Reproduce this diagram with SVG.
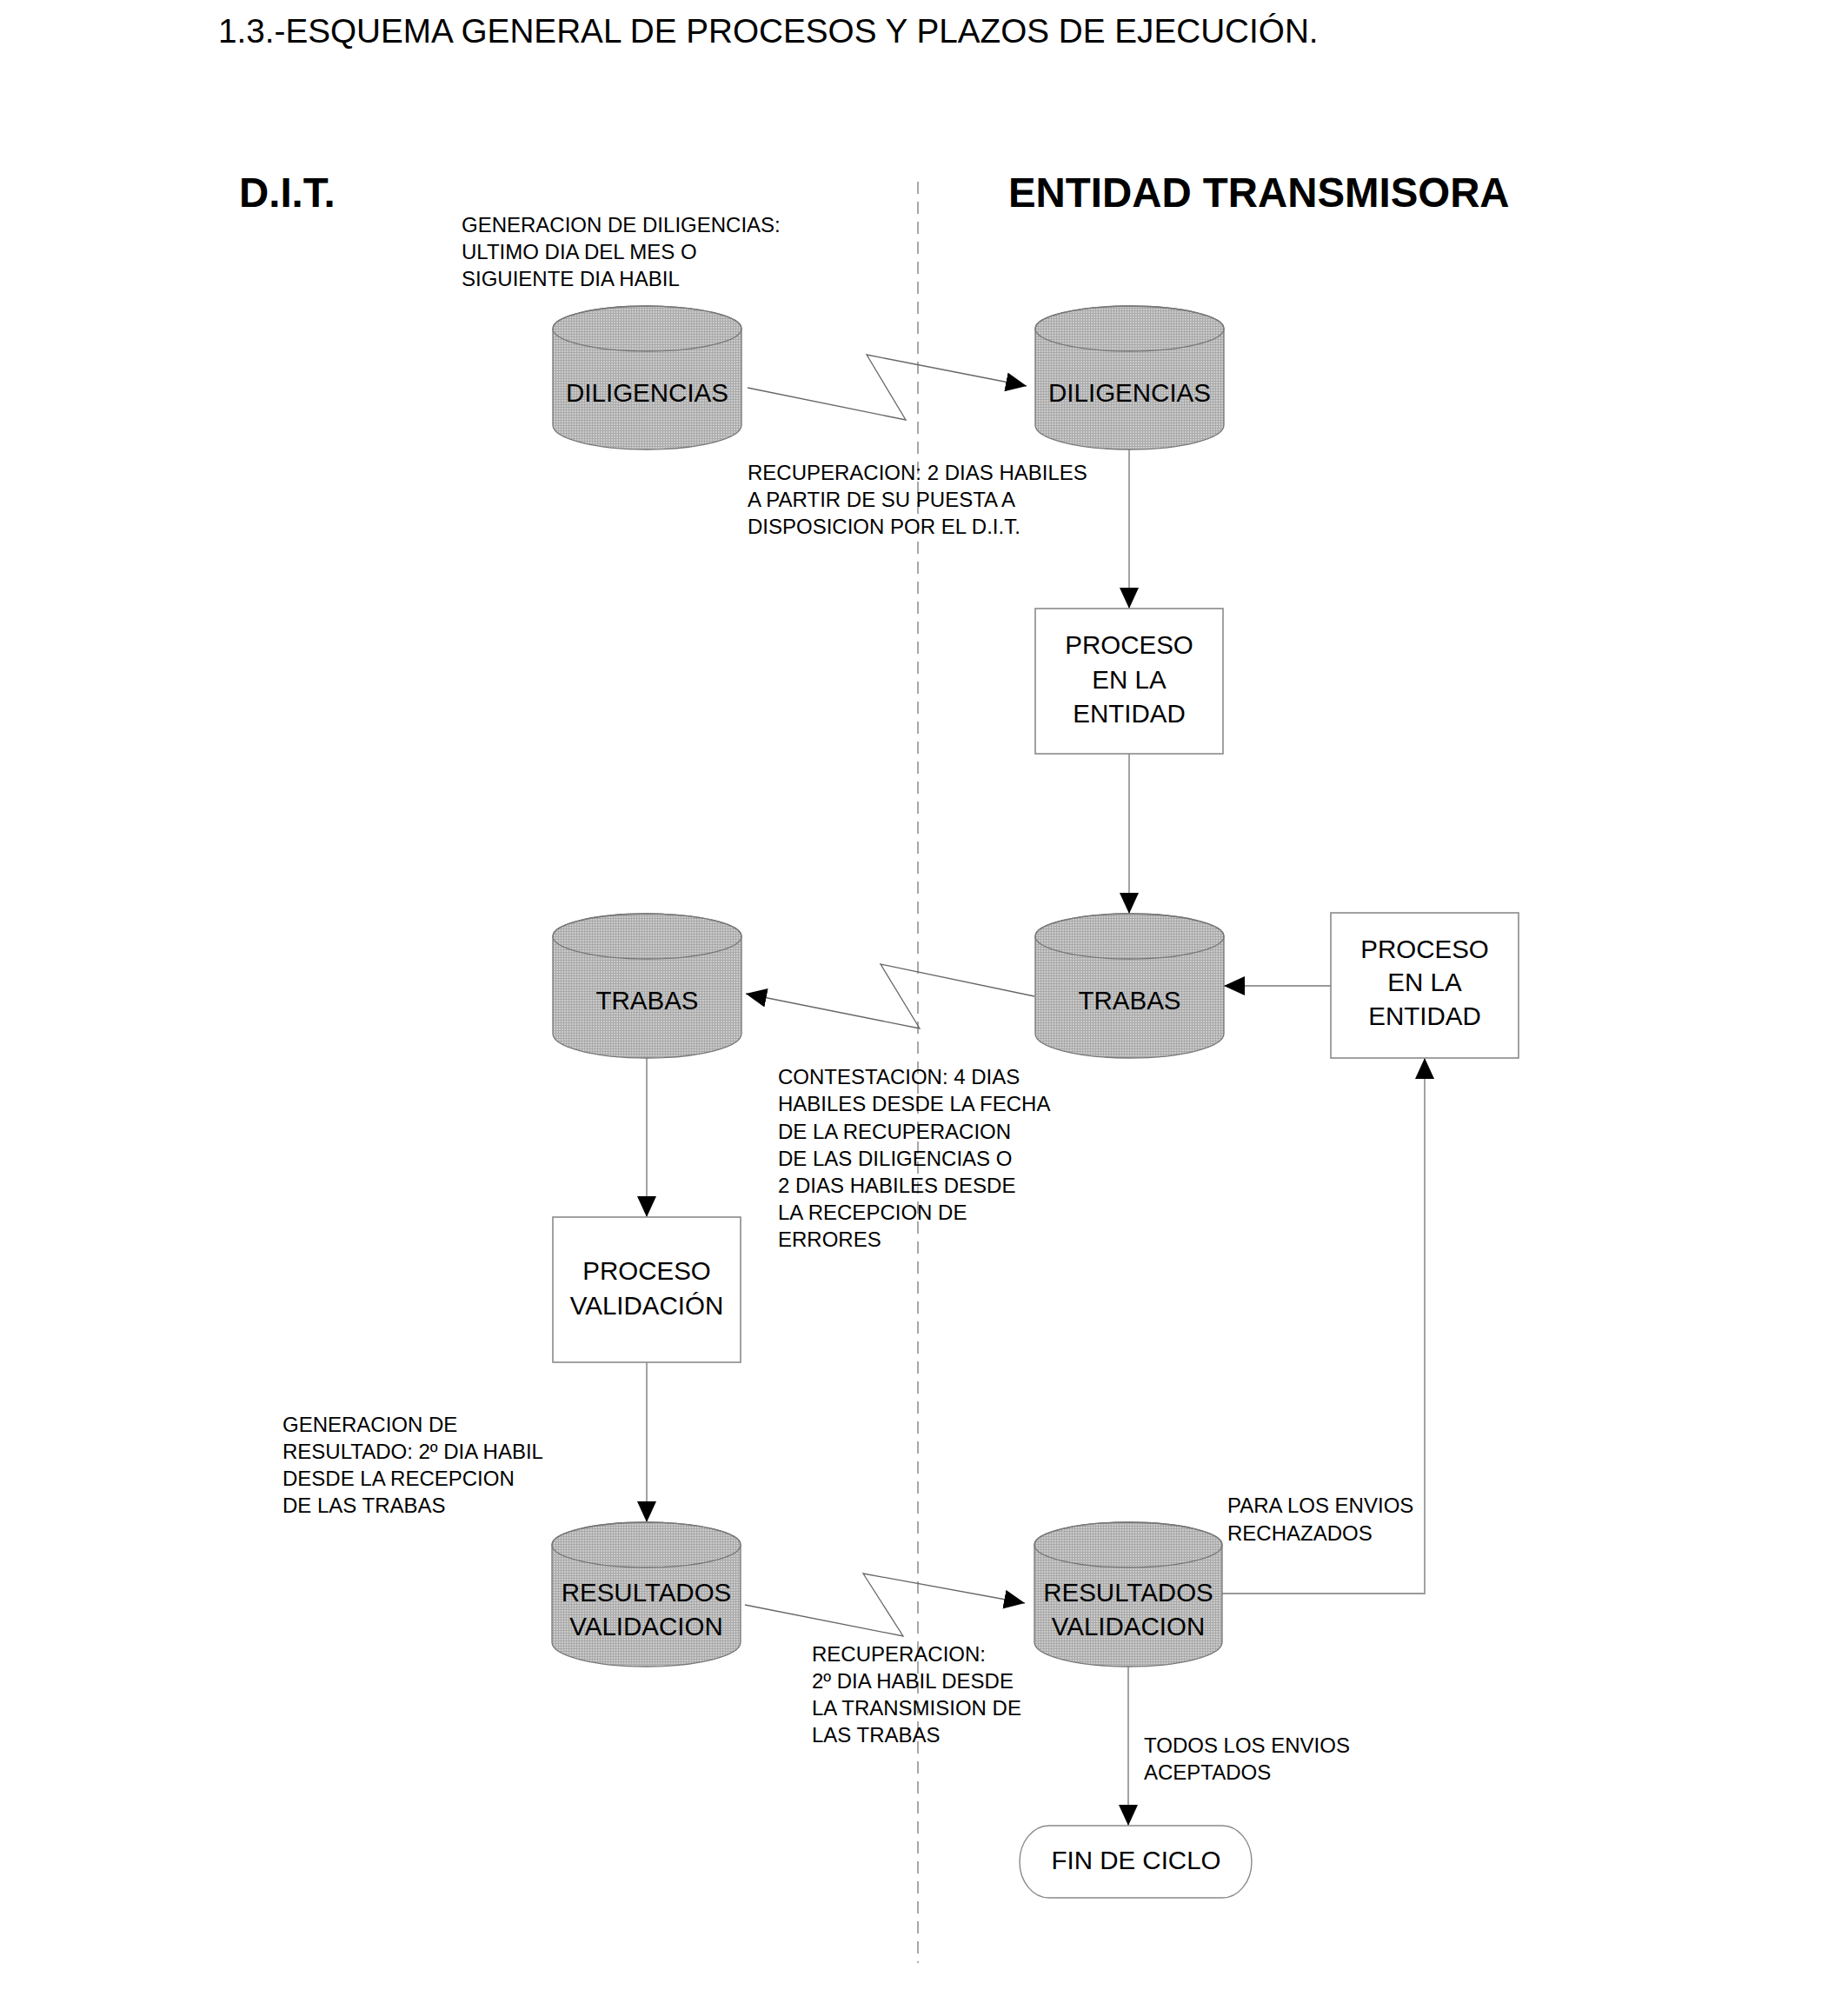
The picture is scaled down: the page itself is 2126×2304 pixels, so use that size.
<svg xmlns="http://www.w3.org/2000/svg" width="2126" height="2304" viewBox="0 0 2126 2304">
<defs>
<pattern id="dots" width="3" height="3" patternUnits="userSpaceOnUse">
<rect width="3" height="3" fill="#cbcbcb"/>
<path d="M0 0.5H3M0.5 0V3" stroke="#a9a9a9" stroke-width="1"/>
</pattern>
<marker id="ah" markerUnits="userSpaceOnUse" markerWidth="24" markerHeight="22" refX="24" refY="11" orient="auto">
<path d="M0 0L24 11L0 22Z" fill="#000"/>
</marker>
</defs>
<style>
text{font-family:"Liberation Sans",Arial,sans-serif;fill:#000}
.title{font-size:38.7px}
.head{font-size:47.4px;font-weight:bold}
.note{font-size:24px}
.lbl{font-size:29.5px;text-anchor:middle}
.cyl{fill:url(#dots);stroke:#777;stroke-width:1.3}
.cyltop{fill:none;stroke:#777;stroke-width:1.3}
.box{fill:#fff;stroke:#8a8a8a;stroke-width:1.6}
.term{fill:#fff;stroke:#8a8a8a;stroke-width:1.4}
.conn{fill:none;stroke:#999;stroke-width:1.8}
.zig{fill:none;stroke:#666;stroke-width:1.3}
.lane{fill:none;stroke:#8a8a8a;stroke-width:1.5;stroke-dasharray:14 9}
</style>

<text class="title" x="251" y="49">1.3.-ESQUEMA GENERAL DE PROCESOS Y PLAZOS DE EJECUCIÓN.</text>
<text class="head" x="275" y="238">D.I.T.</text>
<text class="head" x="1160" y="238">ENTIDAD TRANSMISORA</text>
<path class="lane" d="M1056 209V2258"/>

<g id="notes">
<text class="note" x="531" y="267">GENERACION DE DILIGENCIAS:</text>
<text class="note" x="531" y="298">ULTIMO DIA DEL MES O</text>
<text class="note" x="531" y="329">SIGUIENTE DIA HABIL</text>
<text class="note" x="860" y="552">RECUPERACION: 2 DIAS HABILES</text>
<text class="note" x="860" y="583">A PARTIR DE SU PUESTA A</text>
<text class="note" x="860" y="614">DISPOSICION POR EL D.I.T.</text>
<text class="note" x="895" y="1247">CONTESTACION: 4 DIAS</text>
<text class="note" x="895" y="1278">HABILES DESDE LA FECHA</text>
<text class="note" x="895" y="1310">DE LA RECUPERACION</text>
<text class="note" x="895" y="1341">DE LAS DILIGENCIAS O</text>
<text class="note" x="895" y="1372">2 DIAS HABILES DESDE</text>
<text class="note" x="895" y="1403">LA RECEPCION DE</text>
<text class="note" x="895" y="1434">ERRORES</text>
<text class="note" x="325" y="1647">GENERACION DE</text>
<text class="note" x="325" y="1678">RESULTADO: 2º DIA HABIL</text>
<text class="note" x="325" y="1709">DESDE LA RECEPCION</text>
<text class="note" x="325" y="1740">DE LAS TRABAS</text>
<text class="note" x="1412" y="1740">PARA LOS ENVIOS</text>
<text class="note" x="1412" y="1772">RECHAZADOS</text>
<text class="note" x="934" y="1911">RECUPERACION:</text>
<text class="note" x="934" y="1942">2º DIA HABIL DESDE</text>
<text class="note" x="934" y="1973">LA TRANSMISION DE</text>
<text class="note" x="934" y="2004">LAS TRABAS</text>
<text class="note" x="1316" y="2016">TODOS LOS ENVIOS</text>
<text class="note" x="1316" y="2047">ACEPTADOS</text>
</g>

<g id="connectors">
<path class="zig" d="M860 446L1042 483L997 408L1181 444" marker-end="url(#ah)"/>
<path class="zig" d="M1190 1146L1013 1109L1058 1183L858 1143" marker-end="url(#ah)"/>
<path class="zig" d="M857 1846L1039 1882L993 1810L1179 1844" marker-end="url(#ah)"/>
<path class="conn" d="M1299 517V700" marker-end="url(#ah)"/>
<path class="conn" d="M1299 867V1051" marker-end="url(#ah)"/>
<path class="conn" d="M1531 1134H1408" marker-end="url(#ah)"/>
<path class="conn" d="M1406 1833H1639V1217" marker-end="url(#ah)"/>
<path class="conn" d="M744 1217V1400" marker-end="url(#ah)"/>
<path class="conn" d="M744 1567V1751" marker-end="url(#ah)"/>
<path class="conn" d="M1298 1917V2100" marker-end="url(#ah)"/>
</g>

<g id="dit-diligencias">
<path class="cyl" d="M636 378A108.5 26 0 0 1 853 378V489A108.5 28 0 0 1 636 489Z"/>
<ellipse class="cyltop" cx="744.5" cy="378" rx="108.5" ry="26"/>
<text class="lbl" x="744.5" y="462">DILIGENCIAS</text>
</g>
<g id="et-diligencias">
<path class="cyl" d="M1191 378A108.5 26 0 0 1 1408 378V489A108.5 28 0 0 1 1191 489Z"/>
<ellipse class="cyltop" cx="1299.5" cy="378" rx="108.5" ry="26"/>
<text class="lbl" x="1299.5" y="462">DILIGENCIAS</text>
</g>
<g id="et-proceso1">
<rect class="box" x="1191" y="700" width="216" height="167"/>
<text class="lbl" x="1299" y="752">PROCESO</text>
<text class="lbl" x="1299" y="792">EN LA</text>
<text class="lbl" x="1299" y="831">ENTIDAD</text>
</g>
<g id="dit-trabas">
<path class="cyl" d="M636 1077A108.5 26 0 0 1 853 1077V1189A108.5 28 0 0 1 636 1189Z"/>
<ellipse class="cyltop" cx="744.5" cy="1077" rx="108.5" ry="26"/>
<text class="lbl" x="744.5" y="1161">TRABAS</text>
</g>
<g id="et-trabas">
<path class="cyl" d="M1191 1077A108.5 26 0 0 1 1408 1077V1189A108.5 28 0 0 1 1191 1189Z"/>
<ellipse class="cyltop" cx="1299.5" cy="1077" rx="108.5" ry="26"/>
<text class="lbl" x="1299.5" y="1161">TRABAS</text>
</g>
<g id="et-proceso2">
<rect class="box" x="1531" y="1050" width="216" height="167"/>
<text class="lbl" x="1639" y="1102">PROCESO</text>
<text class="lbl" x="1639" y="1140">EN LA</text>
<text class="lbl" x="1639" y="1179">ENTIDAD</text>
</g>
<g id="dit-validacion">
<rect class="box" x="636" y="1400" width="216" height="167"/>
<text class="lbl" x="744" y="1472">PROCESO</text>
<text class="lbl" x="744" y="1512">VALIDACIÓN</text>
</g>
<g id="dit-resultados">
<path class="cyl" d="M635 1777A108.5 26 0 0 1 852 1777V1889A108.5 28 0 0 1 635 1889Z"/>
<ellipse class="cyltop" cx="743.5" cy="1777" rx="108.5" ry="26"/>
<text class="lbl" x="743.5" y="1842">RESULTADOS</text>
<text class="lbl" x="743.5" y="1881">VALIDACION</text>
</g>
<g id="et-resultados">
<path class="cyl" d="M1190 1777A108 26 0 0 1 1406 1777V1889A108 28 0 0 1 1190 1889Z"/>
<ellipse class="cyltop" cx="1298" cy="1777" rx="108" ry="26"/>
<text class="lbl" x="1298" y="1842">RESULTADOS</text>
<text class="lbl" x="1298" y="1881">VALIDACION</text>
</g>
<g id="fin-ciclo">
<rect class="term" x="1173" y="2100" width="267" height="83" rx="34" ry="41.5"/>
<text class="lbl" x="1307" y="2150">FIN DE CICLO</text>
</g>
</svg>
